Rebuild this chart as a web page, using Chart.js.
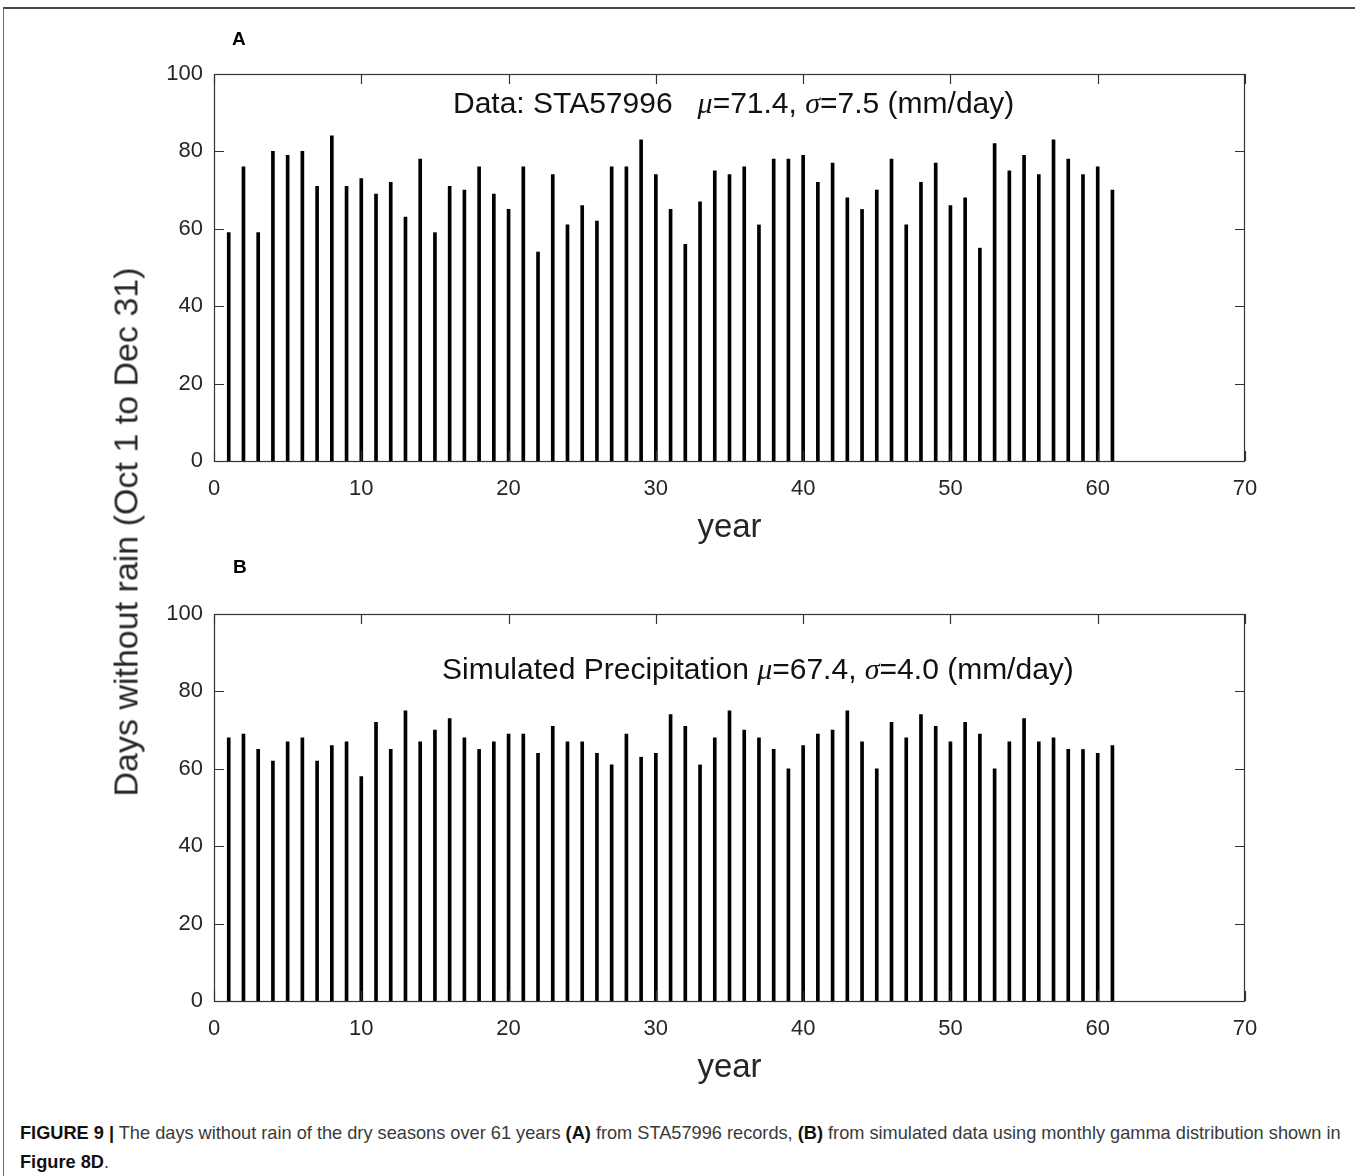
<!DOCTYPE html>
<html>
<head>
<meta charset="utf-8">
<script src="https://cdn.jsdelivr.net/npm/chart.js@4.4.1/dist/chart.umd.min.js"></script>
<style>
  html, body { margin: 0; padding: 0; background: #fff; }
  #page { position: relative; width: 1355px; height: 1176px; overflow: hidden; }
  #page canvas { position: absolute; left: 0; }
  #frame { position: absolute; left: 3px; top: 7px; right: 0; bottom: -2px;
           border-top: 2px solid #4a4a4a; border-left: 1px solid #6a6a6a; }
  #ylabel { position: absolute; left: 126px; top: 532px; transform: translate(-50%, -50%) rotate(-90deg);
            white-space: nowrap; font: 34px "Liberation Sans", Arial, sans-serif; color: #262626; }
  #caption { position: absolute; left: 20px; top: 1119px; width: 1335px;
             font: 18.2px "Liberation Sans Narrow", "Arial Narrow", sans-serif; line-height: 29px; color: #3a3a3a; }
  #caption b { color: #111; }
</style>
</head>
<body>
<div id="page">
  <div id="frame"></div>
  <canvas id="panelA" width="1355" height="560" style="top:0"></canvas>
  <canvas id="panelB" width="1355" height="560" style="top:540px"></canvas>
  <div id="ylabel">Days without rain (Oct 1 to Dec 31)</div>
  <div id="caption"><b>FIGURE 9 |</b> The days without rain of the dry seasons over 61 years <b>(A)</b> from STA57996 records, <b>(B)</b> from simulated data using monthly gamma distribution shown in<br><b>Figure 8D</b>.</div>
</div>
<script>
// seasons 1..61
var years = [1, 2, 3, 4, 5, 6, 7, 8, 9, 10, 11, 12, 13, 14, 15, 16, 17, 18, 19, 20,
             21, 22, 23, 24, 25, 26, 27, 28, 29, 30, 31, 32, 33, 34, 35, 36, 37, 38, 39, 40,
             41, 42, 43, 44, 45, 46, 47, 48, 49, 50, 51, 52, 53, 54, 55, 56, 57, 58, 59, 60, 61];

// days without rain, station records
var observedDays = [59, 76, 59, 80, 79, 80, 71, 84, 71, 73, 69, 72, 63, 78, 59, 71, 70, 76, 69, 65,
                    76, 54, 74, 61, 66, 62, 76, 76, 83, 74, 65, 56, 67, 75, 74, 76, 61, 78, 78, 79,
                    72, 77, 68, 65, 70, 78, 61, 72, 77, 66, 68, 55, 82, 75, 79, 74, 83, 78, 74, 76, 70];

// days without rain, simulated precipitation
var simulatedDays = [68, 69, 65, 62, 67, 68, 62, 66, 67, 58, 72, 65, 75, 67, 70, 73, 68, 65, 67, 69,
                     69, 64, 71, 67, 67, 64, 61, 69, 63, 64, 74, 71, 61, 68, 75, 70, 68, 65, 60, 66,
                     69, 70, 75, 67, 60, 72, 68, 74, 71, 67, 72, 69, 60, 67, 73, 67, 68, 65, 65, 64, 66];

var xTicks = [0, 10, 20, 30, 40, 50, 60, 70];
var yTicks = [0, 20, 40, 60, 80, 100];

var SANS = '"Liberation Sans", Arial, sans-serif';
var SERIF = '"Liberation Serif", "Times New Roman", serif';
var AXIS_COLOR = '#333';
var TEXT_COLOR = '#262626';

// box around the axes with inward ticks on all four sides, plus panel letter and annotation
var panelDecor = {
    id: 'panelDecor',
    afterDatasetsDraw: function (chart, args, opts) {
        var ctx = chart.ctx;
        var a = chart.chartArea;
        var xs = chart.scales.x, ys = chart.scales.y;
        var tl = 10;
        ctx.save();
        ctx.strokeStyle = AXIS_COLOR;
        ctx.lineWidth = 1.2;
        ctx.strokeRect(a.left + 0.5, a.top + 0.5, a.right - a.left - 1, a.bottom - a.top);
        ctx.beginPath();
        xTicks.forEach(function (v) {
            var px = Math.round(xs.getPixelForValue(v)) + 0.5;
            ctx.moveTo(px, a.top); ctx.lineTo(px, a.top + tl);
            ctx.moveTo(px, a.bottom); ctx.lineTo(px, a.bottom - tl);
        });
        yTicks.forEach(function (v) {
            var py = Math.round(ys.getPixelForValue(v)) + 0.5;
            ctx.moveTo(a.left, py); ctx.lineTo(a.left + tl, py);
            ctx.moveTo(a.right, py); ctx.lineTo(a.right - tl, py);
        });
        ctx.stroke();

        // panel letter
        ctx.fillStyle = '#000';
        ctx.font = 'bold 19px ' + SANS;
        ctx.textBaseline = 'alphabetic';
        ctx.fillText(opts.letter, opts.letterX, opts.letterY);

        // annotation with italic greek symbols
        var x = opts.textX;
        ctx.fillStyle = '#111';
        opts.parts.forEach(function (p) {
            ctx.font = p[1] ? 'italic 30px ' + SERIF : '30px ' + SANS;
            ctx.fillText(p[0], x, opts.textY);
            x += ctx.measureText(p[0]).width;
        });
        ctx.restore();
    }
};

function makePanel(id, values, decor) {
    var points = years.map(function (yr, i) { return {x: yr, y: values[i]}; });
    return new Chart(document.getElementById(id), {
        type: 'bar',
        data: {
            datasets: [{
                data: points,
                backgroundColor: '#000',
                borderWidth: 0,
                barThickness: 3
            }]
        },
        options: {
            responsive: false,
            animation: false,
            events: [],
            layout: {padding: {top: 74, left: 154, right: 110, bottom: 0}},
            plugins: {
                legend: {display: false},
                tooltip: {enabled: false},
                panelDecor: decor
            },
            scales: {
                x: {
                    type: 'linear',
                    min: 0, max: 70,
                    offset: false,
                    grid: {display: false, drawTicks: false, offset: false},
                    border: {display: false},
                    ticks: {stepSize: 10, padding: 15, color: TEXT_COLOR, font: {size: 22, family: SANS}, maxRotation: 0},
                    title: {display: true, text: 'year', color: TEXT_COLOR, font: {size: 33, family: SANS}, padding: {top: 0, bottom: 12}},
                    afterFit: function (s) { s.height = 99; }
                },
                y: {
                    min: 0, max: 100,
                    grid: {display: false, drawTicks: false},
                    border: {display: false},
                    ticks: {stepSize: 20, padding: 11, color: TEXT_COLOR, font: {size: 22, family: SANS}},
                    afterFit: function (s) { s.width = 60; }
                }
            }
        },
        plugins: [panelDecor]
    });
}

makePanel('panelA', observedDays, {
    letter: 'A', letterX: 232, letterY: 45,
    textX: 453, textY: 113,
    parts: [['Data: STA57996   ', false], ['\u03bc', true], ['=71.4, ', false], ['\u03c3', true], ['=7.5 (mm/day)', false]]
});

makePanel('panelB', simulatedDays, {
    letter: 'B', letterX: 233, letterY: 33,
    textX: 442, textY: 139,
    parts: [['Simulated Precipitation ', false], ['\u03bc', true], ['=67.4, ', false], ['\u03c3', true], ['=4.0 (mm/day)', false]]
});
</script>
</body>
</html>
